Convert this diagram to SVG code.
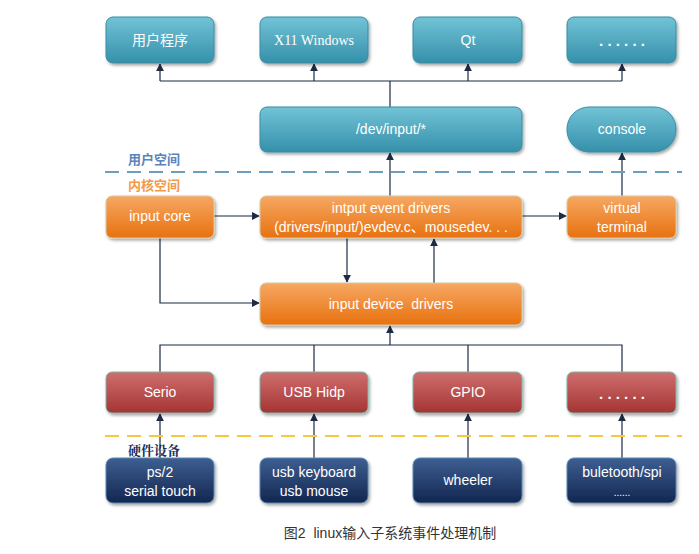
<svg xmlns="http://www.w3.org/2000/svg" width="699" height="554" viewBox="0 0 699 554">
<defs>
<linearGradient id="gT" x1="0" y1="0" x2="0" y2="1"><stop offset="0" stop-color="#72c3d6"/><stop offset="1" stop-color="#3590aa"/></linearGradient>
<linearGradient id="gO" x1="0" y1="0" x2="0" y2="1"><stop offset="0" stop-color="#f6a863"/><stop offset="1" stop-color="#e8710f"/></linearGradient>
<linearGradient id="gR" x1="0" y1="0" x2="0" y2="1"><stop offset="0" stop-color="#cf6e6e"/><stop offset="1" stop-color="#a53434"/></linearGradient>
<linearGradient id="gB" x1="0" y1="0" x2="0" y2="1"><stop offset="0" stop-color="#3d5f92"/><stop offset="1" stop-color="#13264f"/></linearGradient>
<filter id="sh" x="-10%" y="-10%" width="125%" height="135%"><feDropShadow dx="1.5" dy="2" stdDeviation="1.5" flood-color="#000" flood-opacity="0.35"/></filter>
<marker id="ar" viewBox="0 0 10 10" refX="9" refY="5" markerWidth="8" markerHeight="8" orient="auto" markerUnits="userSpaceOnUse"><path d="M0,0 L10,5 L0,10 z" fill="#1d2b45"/></marker>
<style>
.t{fill:url(#gT);stroke:#3a8ba3;stroke-width:1;filter:url(#sh)}
.o{fill:url(#gO);stroke:#d9c9a0;stroke-width:1;filter:url(#sh)}
.r{fill:url(#gR);stroke:#7bb6a6;stroke-width:1;filter:url(#sh)}
.b{fill:url(#gB);stroke:#5a86b0;stroke-width:1;filter:url(#sh)}
.lbl{font-family:"Liberation Sans","Noto Sans CJK SC",sans-serif;font-size:14px;fill:#fff;text-anchor:middle}
.dots{font-weight:bold;font-size:15px}
.c{fill:none;stroke:#1d2b45;stroke-width:1.2}
.ca{fill:none;stroke:#1d2b45;stroke-width:1.2;marker-end:url(#ar)}
</style>
</defs>
<rect width="699" height="554" fill="#fff"/>

<g id="connectors">
<path class="c" d="M390,107 V81 M160,81 H622"/>
<path class="ca" d="M160,81 V64"/>
<path class="ca" d="M314,81 V64"/>
<path class="ca" d="M468,81 V64"/>
<path class="ca" d="M622,81 V64"/>
<path class="ca" d="M390,196 V153"/>
<path class="ca" d="M622,196 V153"/>
<path class="ca" d="M213,216 H259"/>
<path class="ca" d="M521,216 H566"/>
<path class="ca" d="M160,238 V303 H259"/>
<path class="ca" d="M347,238 V282"/>
<path class="ca" d="M434,283 V239"/>
<path class="c" d="M160,372 V345 H622 V372 M314,345 V372 M468,345 V372"/>
<path class="ca" d="M390,345 V326"/>
<path class="ca" d="M160,458 V414"/>
<path class="ca" d="M314,458 V414"/>
<path class="ca" d="M468,458 V414"/>
<path class="ca" d="M622,458 V414"/>
</g>

<g id="separators">
<line x1="105" y1="172" x2="682" y2="172" stroke="#6c9fbe" stroke-width="2" stroke-dasharray="14,8"/>
<line x1="105" y1="436" x2="682" y2="436" stroke="#f5c842" stroke-width="2" stroke-dasharray="14,8"/>
<text x="128" y="164" font-family="Noto Sans CJK SC,sans-serif" font-size="13" font-weight="bold" fill="#5b84bd">用户空间</text>
<text x="128" y="190" font-family="Noto Sans CJK SC,sans-serif" font-size="13" font-weight="bold" fill="#f29a4a">内核空间</text>
<text x="128" y="455" font-family="Noto Serif CJK SC,Noto Sans CJK SC,serif" font-size="13" font-weight="bold" fill="#1a2d58">硬件设备</text>
</g>

<g id="n-user"><rect class="t" x="106" y="17" width="108" height="46" rx="7"/><text class="lbl" x="160" y="45">用户程序</text></g>
<g id="n-x11"><rect class="t" x="260" y="17" width="108" height="46" rx="7"/><text class="lbl" x="314" y="45" style="font-family:'Liberation Serif',serif">X11 Windows</text></g>
<g id="n-qt"><rect class="t" x="413" y="17" width="109" height="46" rx="7"/><text class="lbl" x="468" y="45">Qt</text></g>
<g id="n-dots1"><rect class="t" x="567" y="17" width="109" height="46" rx="7"/><text class="lbl dots" x="622" y="46">. . . . . .</text></g>

<g id="n-devinput"><rect class="t" x="260" y="107" width="262" height="45" rx="7"/><text class="lbl" x="391" y="134">/dev/input/*</text></g>
<g id="n-console"><rect class="t" x="567" y="107" width="109" height="45" rx="22"/><text class="lbl" x="622" y="134">console</text></g>

<g id="n-core"><rect class="o" x="106" y="196" width="108" height="42" rx="6"/><text class="lbl" x="160" y="221">input core</text></g>
<g id="n-event"><rect class="o" x="260" y="196" width="262" height="42" rx="6"/><text class="lbl" x="391" y="213">intput event drivers</text><text class="lbl" x="391" y="232">(drivers/input/)evdev.c、mousedev. . .</text></g>
<g id="n-vt"><rect class="o" x="567" y="196" width="109" height="42" rx="6"/><text class="lbl" x="622" y="213">virtual</text><text class="lbl" x="622" y="232">terminal</text></g>

<g id="n-devdrv"><rect class="o" x="260" y="283" width="262" height="42" rx="6"/><text class="lbl" x="391" y="309" xml:space="preserve">input device  drivers</text></g>

<g id="n-serio"><rect class="r" x="106" y="372" width="108" height="41" rx="6"/><text class="lbl" x="160" y="397">Serio</text></g>
<g id="n-usbhidp"><rect class="r" x="260" y="372" width="108" height="41" rx="6"/><text class="lbl" x="314" y="397">USB Hidp</text></g>
<g id="n-gpio"><rect class="r" x="413" y="372" width="109" height="41" rx="6"/><text class="lbl" x="468" y="397">GPIO</text></g>
<g id="n-dots2"><rect class="r" x="567" y="372" width="109" height="41" rx="6"/><text class="lbl dots" x="622" y="399">. . . . . .</text></g>

<g id="n-ps2"><rect class="b" x="106" y="458" width="108" height="45" rx="7"/><text class="lbl" x="160" y="477">ps/2</text><text class="lbl" x="160" y="496">serial touch</text></g>
<g id="n-usbkb"><rect class="b" x="260" y="458" width="108" height="45" rx="7"/><text class="lbl" x="314" y="477">usb keyboard</text><text class="lbl" x="314" y="496">usb mouse</text></g>
<g id="n-wheeler"><rect class="b" x="413" y="458" width="109" height="45" rx="7"/><text class="lbl" x="468" y="485">wheeler</text></g>
<g id="n-bt"><rect class="b" x="567" y="458" width="109" height="45" rx="7"/><text class="lbl" x="622" y="477">buletooth/spi</text><text class="lbl" x="622" y="496" style="font-size:10px">......</text></g>

<text x="390" y="538" font-family="Liberation Sans,Noto Sans CJK SC,sans-serif" font-size="14" fill="#333" text-anchor="middle" xml:space="preserve">图2  linux输入子系统事件处理机制</text>
</svg>
